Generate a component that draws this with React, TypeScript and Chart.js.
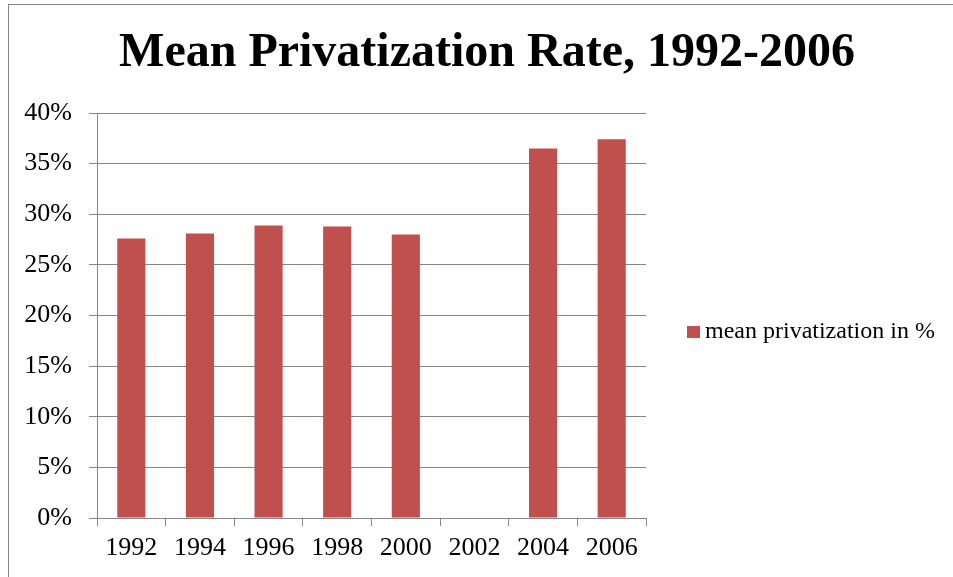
import React, { useEffect, useRef } from "react";
import { Chart, registerables } from "chart.js";

Chart.register(...registerables);

const categories = ["1992", "1994", "1996", "1998", "2000", "2002", "2004", "2006"];
const privatization = [27.6, 28.1, 28.9, 28.8, 28.0, null, 36.5, 37.4];
const yTicks = [0, 5, 10, 15, 20, 25, 30, 35, 40];
const seriesLabel = "mean privatization in %";
const titleText = "Mean Privatization Rate, 1992-2006";

const FONT = "'Liberation Serif', 'Times New Roman', serif";
const GRID = "#868686";
const BAR = "#C0504D";
const CANVAS_W = 956;
const CANVAS_H = 654;

const sideLegend = {
  id: "sideLegend",
  afterDraw(chart: any) {
    const ctx = chart.ctx;
    const area = chart.chartArea;
    const ds = chart.data.datasets[0];
    const x = area.right + 41;
    const cy = 327;
    ctx.save();
    ctx.fillStyle = ds.backgroundColor;
    ctx.fillRect(x, cy - 6, 13, 12);
    ctx.fillStyle = "#000";
    ctx.font = "24px " + FONT;
    ctx.textBaseline = "middle";
    ctx.textAlign = "left";
    ctx.fillText(ds.label, x + 18, cy);
    ctx.restore();
  },
};

export default function App() {
  const ref = useRef<HTMLCanvasElement | null>(null);
  useEffect(() => {
    if (!ref.current) return;
    const chart = new Chart(ref.current, {
      type: "bar",
      data: {
        labels: categories,
        datasets: [
          {
            label: seriesLabel,
            data: privatization,
            backgroundColor: BAR,
            borderWidth: 0,
            categoryPercentage: 1,
            barPercentage: 0.41,
          },
        ],
      },
      options: {
        animation: false,
        responsive: false,
        devicePixelRatio: 1,
        layout: { padding: { left: 0, right: 0, top: 0, bottom: 0 } },
        plugins: {
          title: {
            display: true,
            text: titleText,
            color: "#000",
            font: { family: FONT, size: 48, weight: "bold", lineHeight: 1.2 },
            padding: { top: 20, bottom: 30.4 },
          },
          legend: { display: false },
          tooltip: { enabled: false },
        },
        scales: {
          x: {
            grid: {
              display: true,
              drawOnChartArea: false,
              drawTicks: true,
              tickLength: 8,
              color: GRID,
              offset: true,
            },
            border: { display: true, color: GRID, width: 1 },
            ticks: { color: "#000", font: { family: FONT, size: 26 }, padding: 7, maxRotation: 0, autoSkip: false },
            afterFit: (s: any) => {
              s.height = 141;
            },
          },
          y: {
            min: 0,
            max: 40,
            grid: { color: GRID, tickLength: 8, drawTicks: true },
            border: { display: true, color: GRID, width: 1 },
            afterBuildTicks: (s: any) => {
              s.ticks = yTicks.map((v) => ({ value: v }));
            },
            ticks: {
              color: "#000",
              font: { family: FONT, size: 26 },
              padding: 17,
              callback: (v: any) => v + "%",
            },
            afterFit: (s: any) => {
              s.width = 88;
            },
          },
          gap: {
            type: "linear",
            position: "right",
            display: true,
            grid: { display: false, drawTicks: false },
            border: { display: false },
            ticks: { display: false },
            afterFit: (s: any) => {
              s.width = CANVAS_W - 637;
            },
          },
        },
      },
      plugins: [sideLegend],
    });
    return () => chart.destroy();
  }, []);

  return (
    <div
      style={{
        position: "fixed",
        left: 0,
        top: 0,
        width: 953,
        height: 577,
        overflow: "hidden",
        background: "#fff",
      }}
    >
      <div
        style={{
          position: "absolute",
          left: 8,
          top: 4,
          width: 1000,
          height: 700,
          border: "1px solid #868686",
          boxSizing: "border-box",
        }}
      >
        <canvas
          ref={ref}
          width={CANVAS_W}
          height={CANVAS_H}
          style={{ position: "absolute", left: 0, top: 0, width: CANVAS_W, height: CANVAS_H }}
        />
      </div>
    </div>
  );
}
